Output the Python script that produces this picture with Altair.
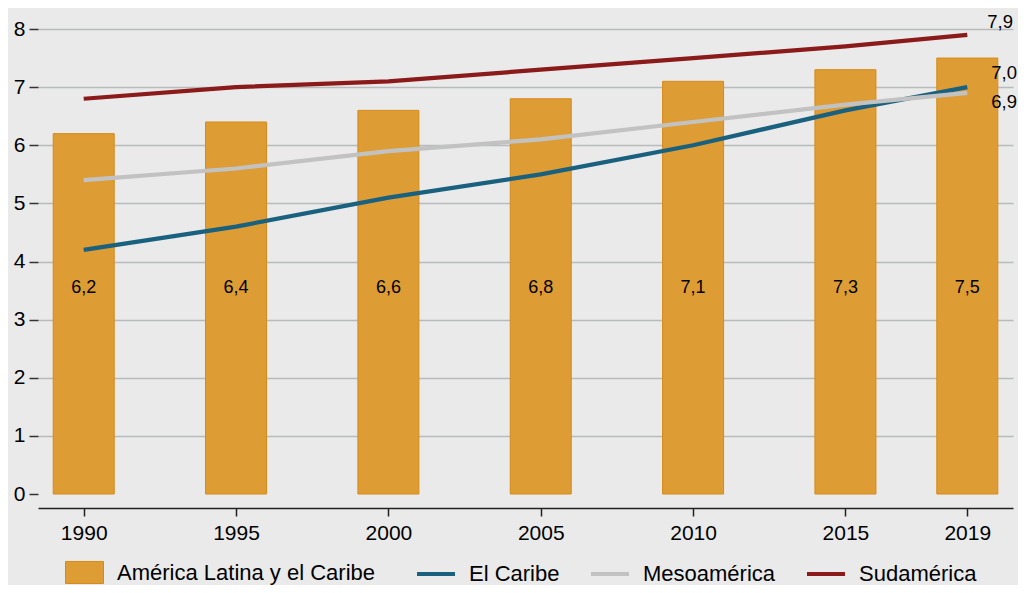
import altair as alt
import pandas as pd

years = [1990, 1995, 2000, 2005, 2010, 2015, 2019]
alc = [6.2, 6.4, 6.6, 6.8, 7.1, 7.3, 7.5]
caribe = [4.2, 4.6, 5.1, 5.5, 6.0, 6.6, 7.0]
meso = [5.4, 5.6, 5.9, 6.1, 6.4, 6.7, 6.9]
sud = [6.8, 7.0, 7.1, 7.3, 7.5, 7.7, 7.9]

S_ALC = "América Latina y el Caribe"
S_CAR = "El Caribe"
S_MES = "Mesoamérica"
S_SUD = "Sudamérica"
line_names = [S_CAR, S_MES, S_SUD]
line_colors = ["#19617F", "#C2C2C2", "#8B1A1A"]
BAR_FILL = "#DE9C34"
BAR_EDGE = "#D68A18"

def fmt(v):
    return f"{v:.1f}".replace(".", ",")

bars = pd.DataFrame({"year": years, "valor": alc, "serie": S_ALC,
                     "label": [fmt(v) for v in alc]})
lines = pd.concat([
    pd.DataFrame({"year": years, "valor": vals, "serie": name})
    for name, vals in zip(line_names, [caribe, meso, sud])
], ignore_index=True)
lines["label"] = lines["valor"].map(fmt)
ends = lines[lines["year"] == years[-1]]

FONT = "Liberation Sans"

xs = alt.Scale(domain=[1988.5, 2020.5], nice=False, zero=False, padding=0)
ys = alt.Scale(domain=[0, 8], nice=False)

rect_path = "M-1,-0.58L1,-0.58L1,0.58L-1,0.58Z"

common_legend = dict(
    title=None, orient="none", direction="horizontal",
    symbolSize=1444, labelFontSize=22, labelFont=FONT, labelColor="#000",
    labelLimit=400, padding=0,
)

bar_legend = alt.Legend(**common_legend, legendX=27, legendY=524,
                        labelOffset=13,
                        symbolType=rect_path, symbolFillColor=BAR_FILL,
                        symbolStrokeColor=BAR_EDGE, symbolStrokeWidth=1,
                        symbolOpacity=1)
line_legend = alt.Legend(**common_legend, legendX=377, legendY=524,
                         labelOffset=12, columnPadding=23,
                         symbolType="stroke", symbolStrokeWidth=4, symbolOpacity=1)

x_axis = alt.Axis(values=years, format="d", title=None, grid=False, offset=14,
                  domainColor="#222", domainWidth=1.5, tickColor="#222", tickWidth=1.5,
                  tickSize=8, labelFontSize=21, labelFont=FONT, labelColor="#000",
                  labelPadding=6)
y_axis = alt.Axis(values=list(range(0, 9)), format="d", title=None, grid=True,
                  gridColor="#B7BBBB", gridWidth=1.6,
                  gridOpacity=alt.ExprRef("datum.value === 0 ? 0 : 1"),
                  domain=False, tickColor="#333", tickWidth=1.5, tickSize=9,
                  labelFontSize=21, labelFont=FONT, labelColor="#000", labelPadding=4)

bar_layer = alt.Chart(bars).mark_bar(size=61, stroke=BAR_EDGE, strokeWidth=1).encode(
    x=alt.X("year:Q", scale=xs, axis=x_axis),
    y=alt.Y("valor:Q", scale=ys, axis=y_axis),
    fill=alt.Fill("serie:N", scale=alt.Scale(domain=[S_ALC], range=[BAR_FILL]),
                  legend=bar_legend),
)

bar_text = alt.Chart(bars).mark_text(fontSize=18, font=FONT, color="#000",
                                     align="center", baseline="middle").encode(
    x=alt.X("year:Q", scale=xs),
    y=alt.datum(3.55, scale=ys),
    text="label:N",
)

line_layer = alt.Chart(lines).mark_line(strokeWidth=4.2).encode(
    x=alt.X("year:Q", scale=xs),
    y=alt.Y("valor:Q", scale=ys),
    stroke=alt.Stroke("serie:N", scale=alt.Scale(domain=line_names, range=line_colors),
                      legend=line_legend, sort=line_names),
    detail="serie:N",
)

def end_label(name, dx, dy):
    return alt.Chart(ends[ends["serie"] == name]).mark_text(
        fontSize=18.5, font=FONT, color="#000", align="left", baseline="middle",
        dx=dx, dy=dy).encode(
        x=alt.X("year:Q", scale=xs),
        y=alt.Y("valor:Q", scale=ys),
        text="label:N",
    )

chart = alt.layer(
    bar_layer, line_layer, bar_text,
    end_label(S_SUD, 20, -13),
    end_label(S_CAR, 24, -14),
    end_label(S_MES, 24, 9.5),
).properties(
    width=975, height=465,
    autosize=alt.AutoSizeParams(type="none"),
    padding={"left": 30, "top": 21, "right": 5, "bottom": 91},
    background="#EAEAEA",
).configure_view(stroke=None, fill="#EAEAEA")

chart.save("out.html", embed_options={"renderer": "svg", "actions": False})
